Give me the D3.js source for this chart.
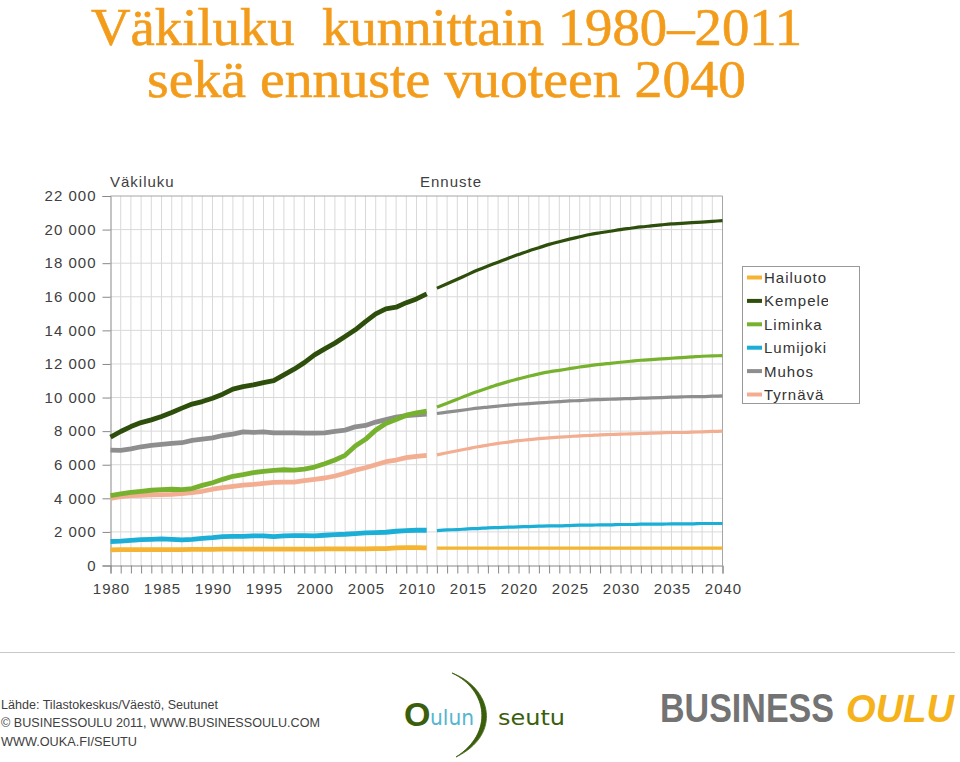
<!DOCTYPE html>
<html><head><meta charset="utf-8">
<script src="https://cdn.jsdelivr.net/npm/d3@7/dist/d3.min.js"></script>
<style>body{margin:0;background:#fff;} svg{display:block;}</style>
</head><body>
<svg id="chart" width="960" height="762"></svg>
<script>
// ---------- DATA ----------
const histYears = [1980,1981,1982,1983,1984,1985,1986,1987,1988,1989,1990,1991,1992,1993,1994,1995,1996,1997,1998,1999,2000,2001,2002,2003,2004,2005,2006,2007,2008,2009,2010,2011];
const fcYears = [2012,2013,2014,2015,2016,2017,2018,2019,2020,2021,2022,2023,2024,2025,2026,2027,2028,2029,2030,2031,2032,2033,2034,2035,2036,2037,2038,2039,2040];
const municipalities = ["Hailuoto","Kempele","Liminka","Lumijoki","Muhos","Tyrnävä"];
const colors = ["#F5B532","#2E4E0B","#77B22F","#1BAED6","#8E8E8E","#F3AE92"];

const hailuotoHist = [930,950,950,950,950,950,950,950,960,960,960,970,970,970,970,970,970,970,970,970,970,990,990,990,990,990,1000,1010,1050,1070,1070,1050];
const kempeleHist  = [7640,7980,8270,8510,8670,8870,9110,9370,9610,9760,9960,10200,10500,10650,10750,10890,11010,11350,11690,12080,12540,12900,13240,13630,14030,14520,14980,15280,15380,15650,15870,16170];
const limingaHist  = [4160,4260,4360,4420,4480,4520,4540,4520,4580,4770,4930,5130,5310,5410,5530,5600,5660,5700,5680,5740,5860,6060,6280,6560,7110,7510,8060,8460,8690,8950,9090,9190];
const lumijokiHist = [1430,1450,1500,1540,1560,1580,1560,1520,1560,1620,1660,1720,1740,1740,1760,1760,1720,1760,1780,1780,1760,1800,1840,1860,1900,1940,1960,1980,2040,2080,2100,2100];
const muhosHist    = [6870,6850,6950,7070,7150,7210,7270,7310,7450,7530,7600,7740,7820,7960,7920,7960,7900,7900,7900,7880,7880,7900,7980,8060,8260,8340,8540,8690,8830,8930,8970,9010];
const tyrnavaHist  = [4000,4100,4160,4180,4200,4220,4240,4280,4340,4420,4540,4630,4710,4790,4830,4890,4950,4970,4970,5050,5130,5210,5330,5490,5680,5820,6000,6180,6280,6420,6500,6560];

const hailuotoFc = [1040,1040,1040,1040,1040,1040,1040,1040,1040,1040,1040,1040,1040,1040,1040,1040,1040,1040,1040,1040,1040,1040,1040,1040,1040,1040,1040,1040,1040];
const kempeleFc  = [16510,16770,17040,17320,17590,17830,18060,18300,18510,18730,18920,19120,19280,19430,19570,19710,19810,19900,20000,20080,20160,20220,20280,20340,20370,20410,20450,20490,20530];
const limingaFc  = [9430,9660,9900,10140,10360,10570,10770,10950,11110,11270,11410,11530,11620,11720,11820,11900,11980,12040,12100,12160,12220,12260,12300,12340,12380,12420,12460,12480,12500];
const lumijokiFc = [2080,2120,2140,2180,2200,2240,2260,2280,2300,2320,2340,2360,2360,2380,2400,2400,2420,2420,2440,2440,2460,2460,2460,2480,2480,2480,2500,2500,2500];
const muhosFc    = [9050,9130,9210,9290,9370,9430,9490,9550,9600,9640,9680,9720,9760,9800,9820,9860,9880,9900,9920,9940,9960,9980,10000,10020,10040,10060,10060,10080,10100];
const tyrnavaFc  = [6590,6710,6830,6950,7070,7170,7270,7350,7430,7490,7550,7600,7640,7680,7720,7740,7780,7800,7820,7840,7860,7880,7900,7920,7920,7940,7960,7980,8000];

const yTicks = [0,2000,4000,6000,8000,10000,12000,14000,16000,18000,20000,22000];
const xLabelYears = [1980,1985,1990,1995,2000,2005,2010,2015,2020,2025,2030,2035,2040];

const histSeries = [hailuotoHist,kempeleHist,limingaHist,lumijokiHist,muhosHist,tyrnavaHist];
const fcSeries = [hailuotoFc,kempeleFc,limingaFc,lumijokiFc,muhosFc,tyrnavaFc];

// ---------- CHART ----------
const svg = d3.select("#chart");
const x = d3.scaleLinear().domain([1980, 2040]).range([110.5, 722.5]);
const y = d3.scaleLinear().domain([0, 22000]).range([565.5, 196]);
const sans = "'Liberation Sans', Arial, sans-serif";
const allYears = histYears.concat(fcYears);

// Title
const title = svg.append("g").attr("font-family","'Liberation Serif', 'Times New Roman', serif")
  .attr("fill","#F39C1B").attr("stroke","#F39C1B").attr("stroke-width",0.6).attr("font-size",52);
title.append("text").attr("x",91).attr("y",45).attr("textLength",711).attr("lengthAdjust","spacingAndGlyphs")
  .style("white-space","pre").text("Väkiluku  kunnittain 1980–2011");
title.append("text").attr("x",147).attr("y",97).attr("textLength",599).attr("lengthAdjust","spacingAndGlyphs")
  .text("sekä ennuste vuoteen 2040");

// Gridlines
const grid = svg.append("g");
grid.selectAll(".vg").data(allYears.filter(v=>v>1980 && v<2040)).join("line")
  .attr("x1",d=>x(d)).attr("x2",d=>x(d)).attr("y1",y(22000)).attr("y2",y(0))
  .attr("stroke","#d9d9d9").attr("stroke-width",1);
grid.selectAll(".hg").data(yTicks.filter(v=>v>0 && v<22000)).join("line")
  .attr("x1",x(1980)).attr("x2",x(2040)).attr("y1",d=>y(d)).attr("y2",d=>y(d))
  .attr("stroke","#d9d9d9").attr("stroke-width",1);
grid.append("line").attr("x1",x(1980)).attr("x2",x(2040)).attr("y1",y(22000)).attr("y2",y(22000)).attr("stroke","#a6a6a6");
grid.append("line").attr("x1",x(2040)).attr("x2",x(2040)).attr("y1",y(22000)).attr("y2",y(0)).attr("stroke","#a6a6a6");

// Axes
const fmt = d => d3.format(",")(d).replace(/,/g," ");
const yAxis = svg.append("g").attr("transform",`translate(${x(1980)},0)`)
  .call(d3.axisLeft(y).tickValues(yTicks).tickSize(8).tickPadding(6).tickFormat(fmt));
const xAxis = svg.append("g").attr("transform",`translate(0,${y(0)})`)
  .call(d3.axisBottom(x).tickValues(allYears).tickSize(8).tickPadding(10).tickFormat(d => xLabelYears.includes(d) ? String(d) : ""));
[yAxis,xAxis].forEach(a=>{
  a.selectAll("path").attr("stroke","#888");
  a.selectAll("line").attr("stroke","#888");
  a.selectAll("text").attr("font-family",sans).attr("font-size",15).attr("fill","#404040").style("letter-spacing","1px");
});
xAxis.selectAll("text").attr("dx","0.5px");

// Section labels
svg.append("text").attr("x",110).attr("y",187).attr("font-family",sans).attr("font-size",15).attr("fill","#404040").style("letter-spacing","1px").text("Väkiluku");
svg.append("text").attr("x",420).attr("y",187).attr("font-family",sans).attr("font-size",15).attr("fill","#404040").style("letter-spacing","1px").text("Ennuste");

// Lines
const lineHist = d3.line().x((d,i)=>x(histYears[i])).y(d=>y(d));
const lineFc = d3.line().x((d,i)=>x(fcYears[i])).y(d=>y(d)).curve(d3.curveMonotoneX);
const lines = svg.append("g").attr("fill","none").attr("stroke-linejoin","round");
const order = [4,5,2,3,0,1];
order.forEach(k=>{
  lines.append("path").attr("d",lineHist(histSeries[k])).attr("stroke",colors[k]).attr("stroke-width",4.8);
  lines.append("path").attr("d",lineFc(fcSeries[k])).attr("stroke",colors[k]).attr("stroke-width",3.2);
});

// Legend
const defs = svg.append("defs");
defs.append("clipPath").attr("id","legclip").append("rect").attr("x",742).attr("y",266).attr("width",86).attr("height",138);
const leg = svg.append("g");
leg.append("rect").attr("x",742.5).attr("y",266.5).attr("width",117).attr("height",137).attr("fill","#fff").attr("stroke","#999");
const legItems = leg.append("g").attr("clip-path","url(#legclip)");
municipalities.forEach((m,i)=>{
  const cy = 277.5 + i*23.4;
  legItems.append("line").attr("x1",747).attr("x2",762).attr("y1",cy).attr("y2",cy).attr("stroke",colors[i]).attr("stroke-width",4);
  legItems.append("text").attr("x",764).attr("y",cy+5.5).attr("font-family",sans).attr("font-size",15).attr("fill","#333").style("letter-spacing","1px").text(m);
});

// Footer
svg.append("line").attr("x1",0).attr("x2",955).attr("y1",652.5).attr("y2",652.5).attr("stroke","#c8c8c8");
const foot = svg.append("g").attr("font-family",sans).attr("font-size",12.5).attr("fill","#404040");
foot.append("text").attr("x",1).attr("y",709).attr("textLength",217).attr("lengthAdjust","spacingAndGlyphs").text("Lähde: Tilastokeskus/Väestö, Seutunet");
foot.append("text").attr("x",1).attr("y",727).attr("textLength",319).attr("lengthAdjust","spacingAndGlyphs").text("© BUSINESSOULU 2011, WWW.BUSINESSOULU.COM");
foot.append("text").attr("x",1).attr("y",746).attr("textLength",136).attr("lengthAdjust","spacingAndGlyphs").text("WWW.OUKA.FI/SEUTU");

// Oulunseutu logo
const logo = svg.append("g").attr("font-family","'DejaVu Sans', sans-serif");
logo.append("text").attr("x",404).attr("y",726).attr("font-family","'Liberation Sans', Arial, sans-serif").attr("font-size",34).attr("font-weight","bold").attr("fill","#3B5E0D").text("O");
logo.append("text").attr("x",430).attr("y",725).attr("font-size",22).attr("textLength",44).attr("lengthAdjust","spacingAndGlyphs").attr("fill","#55B6CF").text("ulun");
logo.append("text").attr("x",498).attr("y",725).attr("font-size",22).attr("textLength",67).attr("lengthAdjust","spacingAndGlyphs").attr("fill","#3B5E0D").text("seutu");
logo.append("path").attr("d","M452,673 C492,688 502,735 456,757 C494,733 488,690 452,673 Z").attr("fill","#3B5E0D").attr("stroke","#3B5E0D").attr("stroke-width",0.8);

// BUSINESS OULU logo
const bo = svg.append("g").attr("font-family","'Liberation Sans', Arial, sans-serif").attr("font-weight","bold");
bo.append("text").attr("transform","translate(660,722) scale(1,1.18)").attr("font-size",34).attr("textLength",174).attr("lengthAdjust","spacingAndGlyphs").attr("fill","#737373").text("BUSINESS");
bo.append("text").attr("transform","translate(846,722) scale(1,1.05)").attr("font-size",37).attr("textLength",108).attr("lengthAdjust","spacingAndGlyphs").attr("fill","#F5B21B").attr("font-style","italic").text("OULU");
</script>
</body></html>
